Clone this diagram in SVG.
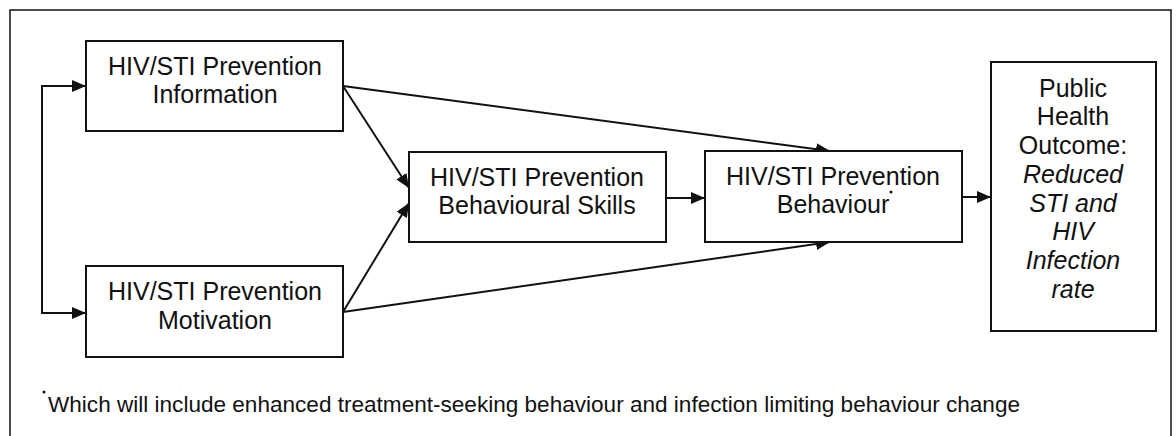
<svg xmlns="http://www.w3.org/2000/svg" width="1176" height="436" viewBox="0 0 1176 436">
<style>
.box{fill:#fff;stroke:#111;stroke-width:2}
.t{font-family:"Liberation Sans",Arial,sans-serif;font-size:25px;fill:#111;text-anchor:middle}
.ti{font-style:italic}
.ln{fill:none;stroke:#111;stroke-width:2}
.fn{font-family:"Liberation Sans",Arial,sans-serif;font-size:22px;fill:#111}
</style>
<defs>
<marker id="ah" markerUnits="userSpaceOnUse" markerWidth="15" markerHeight="12" refX="14" refY="6" orient="auto">
<path d="M0,0 L14,6 L0,12 z" fill="#111"/>
</marker>
</defs>
<rect width="1176" height="436" fill="#fff"/>
<rect x="10" y="10" width="1161" height="432" fill="none" stroke="#111" stroke-width="1.5"/>
<g id="connectors">
<path class="ln" d="M86,86 L42,86 L42,313 L86,313" marker-end="url(#ah)"/>
<path class="ln" d="M42,86 L86,86" marker-end="url(#ah)"/>
<line class="ln" x1="343" y1="86" x2="830" y2="151" marker-end="url(#ah)"/>
<line class="ln" x1="343" y1="86" x2="409" y2="188" marker-end="url(#ah)"/>
<line class="ln" x1="343" y1="312" x2="409" y2="203" marker-end="url(#ah)"/>
<line class="ln" x1="343" y1="312" x2="830" y2="242" marker-end="url(#ah)"/>
<line class="ln" x1="666" y1="198" x2="705" y2="198" marker-end="url(#ah)"/>
<line class="ln" x1="962" y1="197" x2="991" y2="197" marker-end="url(#ah)"/>
</g>
<g id="info">
<rect class="box" x="86" y="41" width="257" height="90"/>
<text class="t" x="215" y="75">HIV/STI Prevention</text>
<text class="t" x="215" y="103">Information</text>
</g>
<g id="motivation">
<rect class="box" x="86" y="266" width="257" height="91"/>
<text class="t" x="215" y="300">HIV/STI Prevention</text>
<text class="t" x="215" y="329">Motivation</text>
</g>
<g id="skills">
<rect class="box" x="409" y="152" width="257" height="90"/>
<text class="t" x="537" y="186">HIV/STI Prevention</text>
<text class="t" x="537" y="214">Behavioural Skills</text>
</g>
<g id="behaviour">
<rect class="box" x="705" y="151" width="257" height="91"/>
<text class="t" x="833" y="185">HIV/STI Prevention</text>
<text class="t" x="833" y="213">Behaviour</text>
<circle cx="891" cy="192" r="1.5" fill="#111"/>
</g>
<g id="outcome">
<rect class="box" x="991" y="62" width="165" height="269"/>
<text class="t" x="1073" y="97">Public</text>
<text class="t" x="1073" y="125">Health</text>
<text class="t" x="1073" y="154">Outcome:</text>
<text class="t ti" x="1073" y="183">Reduced</text>
<text class="t ti" x="1073" y="212">STI and</text>
<text class="t ti" x="1073" y="240">HIV</text>
<text class="t ti" x="1073" y="269">Infection</text>
<text class="t ti" x="1073" y="298">rate</text>
</g>
<g id="footnote">
<circle cx="44" cy="392" r="1.5" fill="#111"/>
<text class="fn" x="48" y="412" textLength="972" lengthAdjust="spacingAndGlyphs">Which will include enhanced treatment-seeking behaviour and infection limiting behaviour change</text>
</g>
</svg>
